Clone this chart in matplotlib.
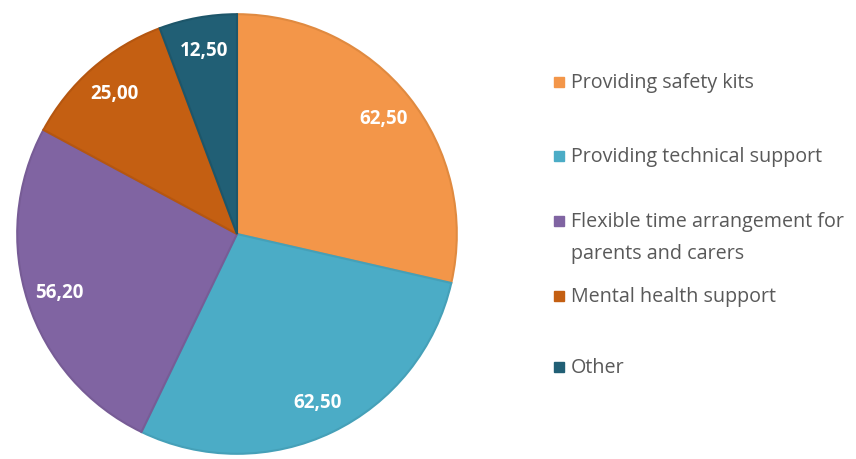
import matplotlib.pyplot as plt
from matplotlib.patches import Rectangle

categories = ['Providing safety kits', 'Providing technical support',
              'Flexible time arrangement for\nparents and carers',
              'Mental health support', 'Other']
values = [62.50, 62.50, 56.20, 25.00, 12.50]
colors = ['#F39649', '#4BACC6', '#8064A2', '#C45F12', '#215F75']
edges = ['#E08A40', '#45A0B8', '#775C96', '#B55610', '#1D566A']

plt.rcParams['font.family'] = ['Open Sans', 'DejaVu Sans']

fig = plt.figure(figsize=(8.56, 4.60), dpi=100)
ax = fig.add_axes([15 / 856, 3 / 460, 444 / 856, 444 / 460])

value_labels = [f'{v:.2f}'.replace('.', ',') for v in values]
wedges, texts = ax.pie(values, colors=colors, startangle=90, counterclock=False,
                       labels=value_labels, labeldistance=0.85,
                       wedgeprops=dict(linewidth=1.5),
                       textprops=dict(color='white', fontweight='bold',
                                      fontsize=13.5, ha='center', va='center'))
for w, ec in zip(wedges, edges):
    w.set_edgecolor(ec)
ax.set_xlim(-1.01, 1.01)
ax.set_ylim(-1.01, 1.01)
ax.set_aspect('equal')

# legend drawn by hand so rows can sit at uneven spacing
rows_y = [83, 157, 222, 297, 368]
for name, c, y in zip(categories, colors, rows_y):
    fig.patches.append(Rectangle((554 / 856, 1 - (y + 5) / 460), 10 / 856, 10 / 460,
                                 transform=fig.transFigure, color=c))
    for i, line in enumerate(name.split('\n')):
        fig.text(571 / 856, 1 - (y + 32 * i) / 460, line, fontsize=14.2,
                 color='#595959', ha='left', va='center')

fig.savefig('out.png', dpi=100)
